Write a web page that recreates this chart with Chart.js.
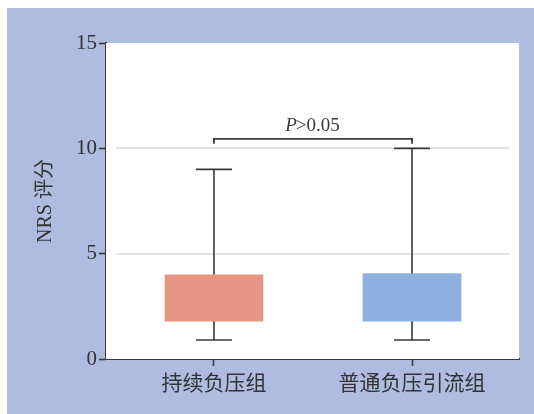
<!DOCTYPE html>
<html>
<head>
<meta charset="utf-8">
<script src="https://cdn.jsdelivr.net/npm/chart.js@4/dist/chart.umd.min.js"></script>
<style>
  html, body { margin: 0; padding: 0; background: #ffffff; }
  #panel { position: absolute; left: 7px; top: 8px; width: 527px; height: 406px; background: #adbcdf; }
  #wrap { position: absolute; left: 0; top: 0; width: 534px; height: 414px; }
</style>
</head>
<body>
<div id="panel"></div>
<div id="wrap"><canvas id="c" width="534" height="414"></canvas></div>
<script>
// Groups and box-plot summary values (NRS score)
const groups = ['持续负压组', '普通负压引流组'];
const q1 = [1.8, 1.8];
const q3 = [4.0, 4.05];
const whiskerLow = [0.9, 0.9];
const whiskerHigh = [9, 10];
const yTicks = [0, 5, 10, 15];
const gridValues = [5, 10];
const pText = { italic: 'P', rest: '>0.05' };
const bracketLevel = 10.45;

const inkColor = '#3a3a3a';

// White plot background, light grid lines, whiskers and significance bracket
const boxPlotExtras = {
  id: 'boxPlotExtras',
  beforeDatasetsDraw(chart) {
    const { ctx, chartArea: a, scales: { x, y } } = chart;
    ctx.save();
    ctx.fillStyle = '#ffffff';
    ctx.fillRect(a.left, a.top, a.right - a.left, a.bottom - a.top);

    ctx.strokeStyle = '#e3e3e3';
    ctx.lineWidth = 2;
    gridValues.forEach(v => {
      const py = Math.round(y.getPixelForValue(v));
      ctx.beginPath();
      ctx.moveTo(a.left + 10, py);
      ctx.lineTo(a.right - 9, py);
      ctx.stroke();
    });

    ctx.strokeStyle = inkColor;
    ctx.lineWidth = 1.6;
    const capHalf = 18;
    groups.forEach((g, i) => {
      const px = x.getPixelForValue(i + 1);
      const yHi = y.getPixelForValue(whiskerHigh[i]);
      const yLo = y.getPixelForValue(whiskerLow[i]);
      ctx.beginPath();
      ctx.moveTo(px, yHi);
      ctx.lineTo(px, yLo);
      ctx.moveTo(px - capHalf, yHi);
      ctx.lineTo(px + capHalf, yHi);
      ctx.moveTo(px - capHalf, yLo);
      ctx.lineTo(px + capHalf, yLo);
      ctx.stroke();
    });
    ctx.restore();
  },
  afterDraw(chart) {
    const { ctx, scales: { x, y } } = chart;
    const x1 = x.getPixelForValue(1);
    const x2 = x.getPixelForValue(2);
    const by = y.getPixelForValue(bracketLevel);
    ctx.save();
    ctx.strokeStyle = inkColor;
    ctx.lineWidth = 1.8;
    ctx.beginPath();
    ctx.moveTo(x1, by + 5);
    ctx.lineTo(x1, by);
    ctx.lineTo(x2, by);
    ctx.lineTo(x2, by + 5);
    ctx.stroke();

    const size = 19;
    const italicFont = `italic ${size}px "Liberation Serif", serif`;
    const normalFont = `${size}px "Liberation Serif", serif`;
    ctx.font = italicFont;
    const w1 = ctx.measureText(pText.italic).width;
    ctx.font = normalFont;
    const w2 = ctx.measureText(pText.rest).width;
    const startX = (x1 + x2) / 2 - (w1 + w2) / 2;
    const baseY = by - 7.5;
    ctx.fillStyle = inkColor;
    ctx.textBaseline = 'alphabetic';
    ctx.textAlign = 'left';
    ctx.font = italicFont;
    ctx.fillText(pText.italic, startX, baseY);
    ctx.font = normalFont;
    ctx.fillText(pText.rest, startX + w1 - 1, baseY);
    ctx.restore();
  }
};

new Chart(document.getElementById('c'), {
  type: 'bar',
  data: {
    datasets: [{
      data: groups.map((g, i) => ({ x: i + 1, y: [q1[i], q3[i]] })),
      backgroundColor: ['#e59684', '#8db2e0'],
      borderWidth: 0,
      barThickness: 98
    }]
  },
  options: {
    responsive: false,
    animation: false,
    layout: { padding: { top: 43, right: 15, left: 0, bottom: 0 } },
    plugins: { legend: { display: false }, tooltip: { enabled: false } },
    scales: {
      x: {
        type: 'linear',
        offset: false,
        min: 0.455,
        max: 2.54,
        afterFit(s) { s.height = 55; },
        afterBuildTicks(s) { s.ticks = groups.map((g, i) => ({ value: i + 1 })); },
        ticks: {
          autoSkip: false,
          maxRotation: 0,
          padding: 3,
          color: '#333333',
          font: { family: '"Noto Sans CJK SC", sans-serif', size: 21 },
          callback: v => groups[v - 1]
        },
        grid: { offset: false, drawOnChartArea: false, tickLength: 7, tickColor: inkColor, tickWidth: 1.6 },
        border: { color: inkColor, width: 2 }
      },
      y: {
        min: 0,
        max: 15,
        afterFit(s) { s.width = 106; },
        afterBuildTicks(s) { s.ticks = yTicks.map(v => ({ value: v })); },
        ticks: {
          padding: 2,
          color: '#333333',
          font: { family: '"Liberation Serif", serif', size: 21 }
        },
        grid: { drawOnChartArea: false, tickLength: 7, tickColor: inkColor, tickWidth: 1.6 },
        border: { color: inkColor, width: 2 },
        title: {
          display: true,
          text: 'NRS 评分',
          color: '#333333',
          font: { family: '"Liberation Serif", "Noto Sans CJK SC", serif', size: 20 },
          padding: { top: 34, bottom: 0 }
        }
      }
    }
  },
  plugins: [boxPlotExtras]
});
</script>
</body>
</html>
